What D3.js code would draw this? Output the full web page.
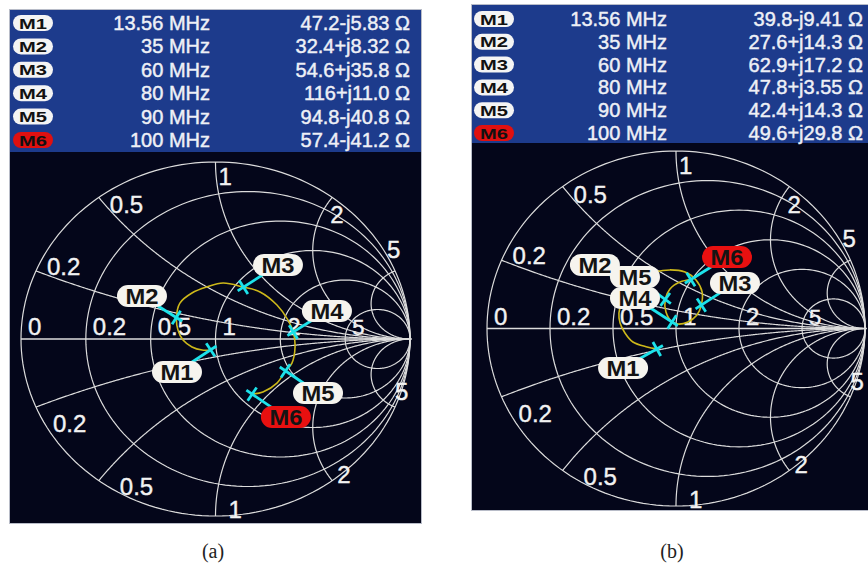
<!DOCTYPE html>
<html>
<head>
<meta charset="utf-8">
<script src="https://cdn.jsdelivr.net/npm/d3@7"></script>
<style>
  body { margin: 0; background: #fff; }
  svg { display: block; }
</style>
</head>
<body>
<svg id="chart" width="868" height="569"></svg>
<script>
// marker table
const markers = ["M1", "M2", "M3", "M4", "M5", "M6"];
const freqs = ["13.56", "35", "60", "80", "90", "100"]; // MHz

// measured impedance in ohm, (a) and (b)
const resA = [47.2, 32.4, 54.6, 116, 94.8, 57.4];
const reactA = [-5.83, 8.32, 35.8, 11.0, -40.8, -41.2];
const resB = [39.8, 27.6, 62.9, 47.8, 42.4, 49.6];
const reactB = [-9.41, 14.3, 17.2, 3.55, 14.3, 29.8];
const z0 = 50;

// smith chart grid
const rCircles = [0, 0.2, 0.5, 1, 2, 5];
const rLabels = ["0", "0.2", "0.5", "1", "2", "5"];
const xArcs = [0.2, 0.5, 1, 2, 5];
const xLabels = ["0.2", "0.5", "1", "2", "5"];

// sweep trace, reflection coefficient [re, im]
const traceA = [
  [-0.025, -0.062], [-0.069, -0.062], [-0.121, -0.045], [-0.167, -0.006],
  [-0.193, 0.051], [-0.201, 0.121], [-0.183, 0.203], [-0.121, 0.260],
  [-0.044, 0.294], [0.039, 0.316], [0.144, 0.293], [0.229, 0.266],
  [0.316, 0.192], [0.373, 0.107], [0.400, 0.040], [0.409, -0.045],
  [0.393, -0.136], [0.360, -0.180], [0.316, -0.249], [0.244, -0.299],
  [0.188, -0.311]
];
const traceB = [
  [-0.102, -0.115], [-0.153, -0.104], [-0.228, -0.076], [-0.270, -0.025],
  [-0.296, 0.031], [-0.302, 0.087], [-0.286, 0.150], [-0.246, 0.230],
  [-0.190, 0.285], [-0.111, 0.318], [-0.032, 0.330], [0.048, 0.318],
  [0.106, 0.273], [0.138, 0.206], [0.134, 0.132], [0.111, 0.076],
  [0.063, 0.037], [0.011, 0.025], [-0.021, 0.037], [-0.053, 0.093],
  [-0.057, 0.164], [-0.032, 0.223], [0.021, 0.262], [0.079, 0.276]
];

// marker label spots, also in the reflection plane
const tagsA = [[-0.198, -0.186], [-0.378, 0.243], [0.321, 0.418], [0.573, 0.158], [0.527, -0.305], [0.362, -0.441]];
const tagsB = [[-0.280, -0.223], [-0.429, 0.358], [0.312, 0.256], [-0.217, 0.172], [-0.217, 0.290], [0.270, 0.403]];

// label nudges (px) for the reactance arcs, upper and lower half
const topNudge = [[11, 4], [11, 16], [3, 23], [-2, 26], [-8, -13]];
const botNudge = [[17, 25], [21, 14], [13, 2], [5, 2], [0, -7]];

const svg = d3.select("#chart");
const sans = "Liberation Sans, Arial, sans-serif";

// z -> gamma
function gam(r, x) {
  const d = (r + 1) * (r + 1) + x * x;
  return [(r * r + x * x - 1) / d, 2 * x / d];
}

function drawPanel(p) {
  const g = svg.append("g");
  const xs = d3.scaleLinear().domain([-1, 1]).range([p.cx - p.rx, p.cx + p.rx]);
  const ys = d3.scaleLinear().domain([-1, 1]).range([p.cy + p.ry, p.cy - p.ry]);
  const line = d3.line().x(d => xs(d[0])).y(d => ys(d[1]));

  // header
  g.append("rect").attr("x", p.x0).attr("y", p.y0).attr("width", p.w).attr("height", p.head - p.y0)
    .attr("fill", "#1d3b8c");
  g.append("rect").attr("x", p.x0).attr("y", p.head).attr("width", p.w).attr("height", p.bottom - p.head)
    .attr("fill", "#04061a");
  g.append("rect").attr("x", p.x0 - 0.5).attr("y", p.y0 - 0.5).attr("width", p.w + 1).attr("height", p.bottom - p.y0 + 1)
    .attr("fill", "none").attr("stroke", "#b8bcc8").attr("stroke-width", 1);

  const rows = g.selectAll("g.row").data(markers).enter().append("g")
    .attr("transform", (d, i) => `translate(0,${p.row0 + i * p.rowStep})`);
  rows.append("rect").attr("x", p.pillX - 20).attr("y", -8).attr("width", 40).attr("height", 16).attr("rx", 8)
    .attr("fill", (d, i) => i === 5 ? "#e01010" : "#f4f4f4");
  rows.append("text").attr("x", p.pillX).attr("y", 5.5).attr("text-anchor", "middle")
    .attr("font-family", sans).attr("font-weight", "bold").attr("font-size", 15)
    .attr("textLength", 28).attr("lengthAdjust", "spacingAndGlyphs")
    .attr("fill", "#111").text(d => d);
  const hdr = { "font-family": sans, "font-size": 20, "text-anchor": "end", fill: "#eef0f6",
    stroke: "#eef0f6", "stroke-width": 0.45 };
  const ft = rows.append("text").attr("x", p.freqRight).attr("y", 7).text((d, i) => freqs[i] + " MHz");
  const it = rows.append("text").attr("x", p.impRight).attr("y", 7)
    .text((d, i) => p.res[i].toPrecision(3) + (p.react[i] < 0 ? "-" : "+") + "j" + Math.abs(p.react[i]).toPrecision(3) + " \u03a9");
  Object.entries(hdr).forEach(([k, v]) => { ft.attr(k, v); it.attr(k, v); });

  // chart area
  const clipId = "clip" + p.id;
  svg.append("clipPath").attr("id", clipId).append("rect")
    .attr("x", p.x0).attr("y", p.head).attr("width", p.w).attr("height", p.bottom - p.head);
  const c = g.append("g").attr("clip-path", `url(#${clipId})`);

  const grid = c.append("g").attr("fill", "none").attr("stroke", "#dcdcdc").attr("stroke-width", 1.2);
  const angles = d3.range(0, 2 * Math.PI + 0.01, Math.PI / 90);
  grid.selectAll("path.r").data(rCircles).enter().append("path")
    .attr("d", r => line(angles.map(a => [r / (1 + r) + Math.cos(a) / (1 + r), Math.sin(a) / (1 + r)])));
  const ts = d3.range(0, 0.999, 0.003);
  [1, -1].forEach(sgn => {
    grid.selectAll(null).data(xArcs).enter().append("path")
      .attr("d", x => line(ts.map(t => gam(Math.tan(t * Math.PI / 2), sgn * x)).concat([[1, 0]])));
  });
  grid.append("path").attr("d", line([[-1, 0], [1.01, 0]])).attr("stroke-width", 1.5);

  const lab = c.append("g").attr("fill", "#f2f2f2").attr("stroke", "#f2f2f2").attr("stroke-width", 0.4)
    .attr("font-family", sans).attr("font-size", 24);
  lab.selectAll("text.r").data(rCircles).enter().append("text")
    .attr("x", r => xs((r - 1) / (r + 1)) + 7).attr("y", ys(0) - 4)
    .attr("font-size", (r, i) => i === 5 ? 22 : 24)
    .text((r, i) => rLabels[i]);
  lab.selectAll("text.xt").data(xArcs).enter().append("text")
    .attr("x", (x, i) => xs(gam(0, x)[0]) + topNudge[i][0])
    .attr("y", (x, i) => ys(gam(0, x)[1]) + topNudge[i][1])
    .text((x, i) => xLabels[i]);
  lab.selectAll("text.xb").data(xArcs).enter().append("text")
    .attr("x", (x, i) => xs(gam(0, -x)[0]) + botNudge[i][0])
    .attr("y", (x, i) => ys(gam(0, -x)[1]) + botNudge[i][1])
    .text((x, i) => xLabels[i]);

  // trace
  c.append("path").attr("d", line.curve(d3.curveCatmullRom.alpha(0.5))(p.trace))
    .attr("fill", "none").attr("stroke", "#cdb81a").attr("stroke-width", 1.6);
  line.curve(d3.curveLinear);

  // markers
  const pts = markers.map((m, i) => {
    const gm = gam(p.res[i] / z0, p.react[i] / z0);
    return { m, i, x: xs(gm[0]), y: ys(gm[1]), lx: xs(p.tags[i][0]), ly: ys(p.tags[i][1]) };
  });
  const mk = c.append("g").attr("stroke", "#1ce2ea").attr("stroke-width", 2.8);
  pts.forEach(d => {
    const len = Math.hypot(d.lx - d.x, d.ly - d.y);
    const ux = (d.lx - d.x) / len, uy = (d.ly - d.y) / len;
    mk.append("line").attr("x1", d.x - 7 * ux).attr("y1", d.y - 7 * uy).attr("x2", d.lx).attr("y2", d.ly);
    mk.append("line").attr("x1", d.x - 8 * uy).attr("y1", d.y + 8 * ux).attr("x2", d.x + 8 * uy).attr("y2", d.y - 8 * ux);
  });
  const tags = c.selectAll("g.tag").data(pts).enter().append("g")
    .attr("transform", d => `translate(${d.lx},${d.ly})`);
  tags.append("rect").attr("x", -25).attr("y", -11).attr("width", 50).attr("height", 22).attr("rx", 11)
    .attr("fill", d => d.i === 5 ? "#e81010" : "#f6f4ee");
  tags.append("text").attr("y", 8).attr("text-anchor", "middle")
    .attr("font-family", sans).attr("font-weight", "bold").attr("font-size", 22)
    .attr("textLength", 33).attr("lengthAdjust", "spacingAndGlyphs")
    .attr("fill", "#141414").text(d => d.m);
}

drawPanel({ id: "a", x0: 10, y0: 10, w: 411, head: 152, bottom: 523,
  cx: 215.5, cy: 339, rx: 194.5, ry: 177,
  row0: 23, rowStep: 23.4, pillX: 33, freqRight: 210, impRight: 410,
  res: resA, react: reactA, trace: traceA, tags: tagsA });

drawPanel({ id: "b", x0: 472, y0: 5, w: 396, head: 143, bottom: 510,
  cx: 676, cy: 328.5, rx: 189, ry: 177.5,
  row0: 19, rowStep: 22.8, pillX: 494, freqRight: 667, impRight: 863,
  res: resB, react: reactB, trace: traceB, tags: tagsB });

// captions
svg.selectAll("text.cap").data(["(a)", "(b)"]).enter().append("text")
  .attr("x", (d, i) => i === 0 ? 213 : 672).attr("y", 558).attr("text-anchor", "middle")
  .attr("font-family", "Liberation Serif, Times New Roman, serif").attr("font-size", 20).attr("fill", "#222")
  .text(d => d);
</script>
</body>
</html>
